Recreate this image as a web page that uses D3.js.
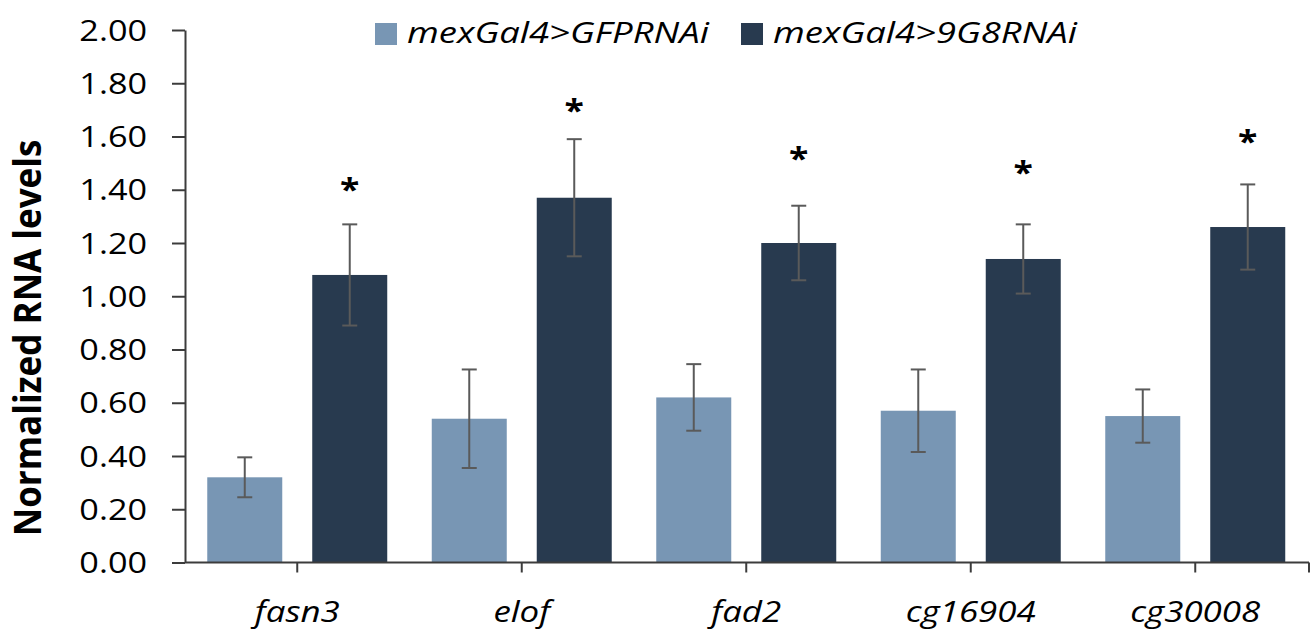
<!DOCTYPE html>
<html>
<head>
<meta charset="utf-8">
<script src="https://cdn.jsdelivr.net/npm/d3@7"></script>
<style>
  html, body { margin: 0; padding: 0; background: #fff; }
  svg { display: block; }
  text { font-family: "Open Sans", "Liberation Sans", sans-serif; fill: #000; }
</style>
</head>
<body>
<svg id="chart" width="1312" height="630"></svg>
<script>
// ---- data ----
const categories = ["fasn3", "elof", "fad2", "cg16904", "cg30008"];
const seriesNames = ["mexGal4>GFPRNAi", "mexGal4>9G8RNAi"];
const gfpValues = [0.32, 0.54, 0.62, 0.57, 0.55];
const gfpErrors = [0.075, 0.185, 0.125, 0.155, 0.10];
const rnaiValues = [1.08, 1.37, 1.20, 1.14, 1.26];
const rnaiErrors = [0.19, 0.22, 0.14, 0.13, 0.16];
const starLevels = [1.425, 1.72, 1.54, 1.49, 1.605];
const yTicks = [0, 0.2, 0.4, 0.6, 0.8, 1.0, 1.2, 1.4, 1.6, 1.8, 2.0];

const colors = ["#7896b4", "#283a4f"];
const errColor = "#5a5a5a";
const axisColor = "#3c3c3c";
const sx = 1.18; // horizontal text stretch

const svg = d3.select("#chart");
const x0 = d3.scaleBand().domain(categories).range([185, 1307.5]).padding(0);
const x1 = d3.scaleBand().domain(seriesNames).range([0, x0.bandwidth()])
  .paddingInner(0.2857).paddingOuter(0.212);
const y = d3.scaleLinear().domain([0, 2]).range([562.5, 30]);

const rows = categories.map((c, i) => ({
  cat: c,
  vals: [
    { s: seriesNames[0], v: gfpValues[i], e: gfpErrors[i], k: 0 },
    { s: seriesNames[1], v: rnaiValues[i], e: rnaiErrors[i], k: 1 }
  ],
  star: starLevels[i]
}));

// bars
const g = svg.append("g");
const groups = g.selectAll("g.grp").data(rows).join("g")
  .attr("class", "grp")
  .attr("transform", d => `translate(${x0(d.cat)},0)`);
groups.selectAll("rect").data(d => d.vals).join("rect")
  .attr("x", d => x1(d.s))
  .attr("y", d => y(d.v))
  .attr("width", x1.bandwidth())
  .attr("height", d => y(0) - y(d.v))
  .attr("fill", d => colors[d.k]);

// error bars
const capW = 15;
const eb = groups.selectAll("g.err").data(d => d.vals).join("g").attr("class", "err")
  .attr("stroke", errColor).attr("stroke-width", 2).attr("fill", "none");
eb.append("line")
  .attr("x1", d => x1(d.s) + x1.bandwidth() / 2).attr("x2", d => x1(d.s) + x1.bandwidth() / 2)
  .attr("y1", d => y(d.v + d.e)).attr("y2", d => y(d.v - d.e));
eb.append("line")
  .attr("x1", d => x1(d.s) + x1.bandwidth() / 2 - capW / 2).attr("x2", d => x1(d.s) + x1.bandwidth() / 2 + capW / 2)
  .attr("y1", d => y(d.v + d.e)).attr("y2", d => y(d.v + d.e));
eb.append("line")
  .attr("x1", d => x1(d.s) + x1.bandwidth() / 2 - capW / 2).attr("x2", d => x1(d.s) + x1.bandwidth() / 2 + capW / 2)
  .attr("y1", d => y(d.v - d.e)).attr("y2", d => y(d.v - d.e));

// asterisks
const starFs = 30;
groups.append("text")
  .attr("transform", d => `translate(${x1(seriesNames[1]) + x1.bandwidth() / 2},${y(d.star) + starFs * 0.56}) scale(${sx},1)`)
  .attr("text-anchor", "middle")
  .attr("font-size", starFs)
  .attr("font-weight", "bold")
  .text("*");

// y axis
const yAxis = svg.append("g").attr("transform", `translate(${x0.range()[0]},0)`)
  .call(d3.axisLeft(y).tickValues(yTicks).tickSize(13).tickSizeOuter(0).tickFormat(d3.format(".2f")));
yAxis.select(".domain").attr("stroke", axisColor).attr("stroke-width", 2);
yAxis.selectAll(".tick line").attr("stroke", axisColor).attr("stroke-width", 2);
yAxis.selectAll(".tick text")
  .attr("x", null).attr("dy", null)
  .attr("font-size", 29)
  .attr("font-family", "'Open Sans', sans-serif")
  .attr("fill", "#000")
  .attr("text-anchor", "end")
  .attr("transform", `translate(-38,10) scale(${sx},1)`);

// x axis
const xTickVals = categories.map(c => x0(c) + x0.bandwidth() / 2);
const xAxisG = svg.append("g").attr("transform", `translate(0,${y(0)})`);
xAxisG.append("line")
  .attr("x1", x0.range()[0]).attr("x2", x0.range()[1] + 1.5)
  .attr("stroke", axisColor).attr("stroke-width", 2);
xAxisG.selectAll("line.tk").data(xTickVals.concat([x0.range()[1] + 1.5])).join("line")
  .attr("class", "tk")
  .attr("x1", d => d).attr("x2", d => d)
  .attr("y1", 0).attr("y2", 10)
  .attr("stroke", axisColor).attr("stroke-width", 2);
xAxisG.selectAll("text.cat").data(categories).join("text")
  .attr("class", "cat")
  .attr("transform", d => `translate(${x0(d) + x0.bandwidth() / 2},59) scale(${sx * 1.02},1)`)
  .attr("text-anchor", "middle")
  .attr("font-size", 29)
  .attr("font-style", "italic")
  .text(d => d);

// y label
svg.append("text")
  .attr("transform", `translate(41,338) scale(1.07,1) rotate(-90)`)
  .attr("text-anchor", "middle")
  .attr("font-size", 35)
  .attr("font-weight", "bold")
  .text("Normalized RNA levels");

// legend
const legendX = [375, 741];
const leg = svg.selectAll("g.leg").data(seriesNames).join("g").attr("class", "leg")
  .attr("transform", (d, i) => `translate(${legendX[i]},23)`);
leg.append("rect").attr("width", 22).attr("height", 22).attr("fill", (d, i) => colors[i]);
leg.append("text")
  .attr("transform", `translate(32,20) scale(${sx * 1.03},1)`)
  .attr("font-size", 30)
  .attr("font-style", "italic")
  .text(d => d);
</script>
</body>
</html>
